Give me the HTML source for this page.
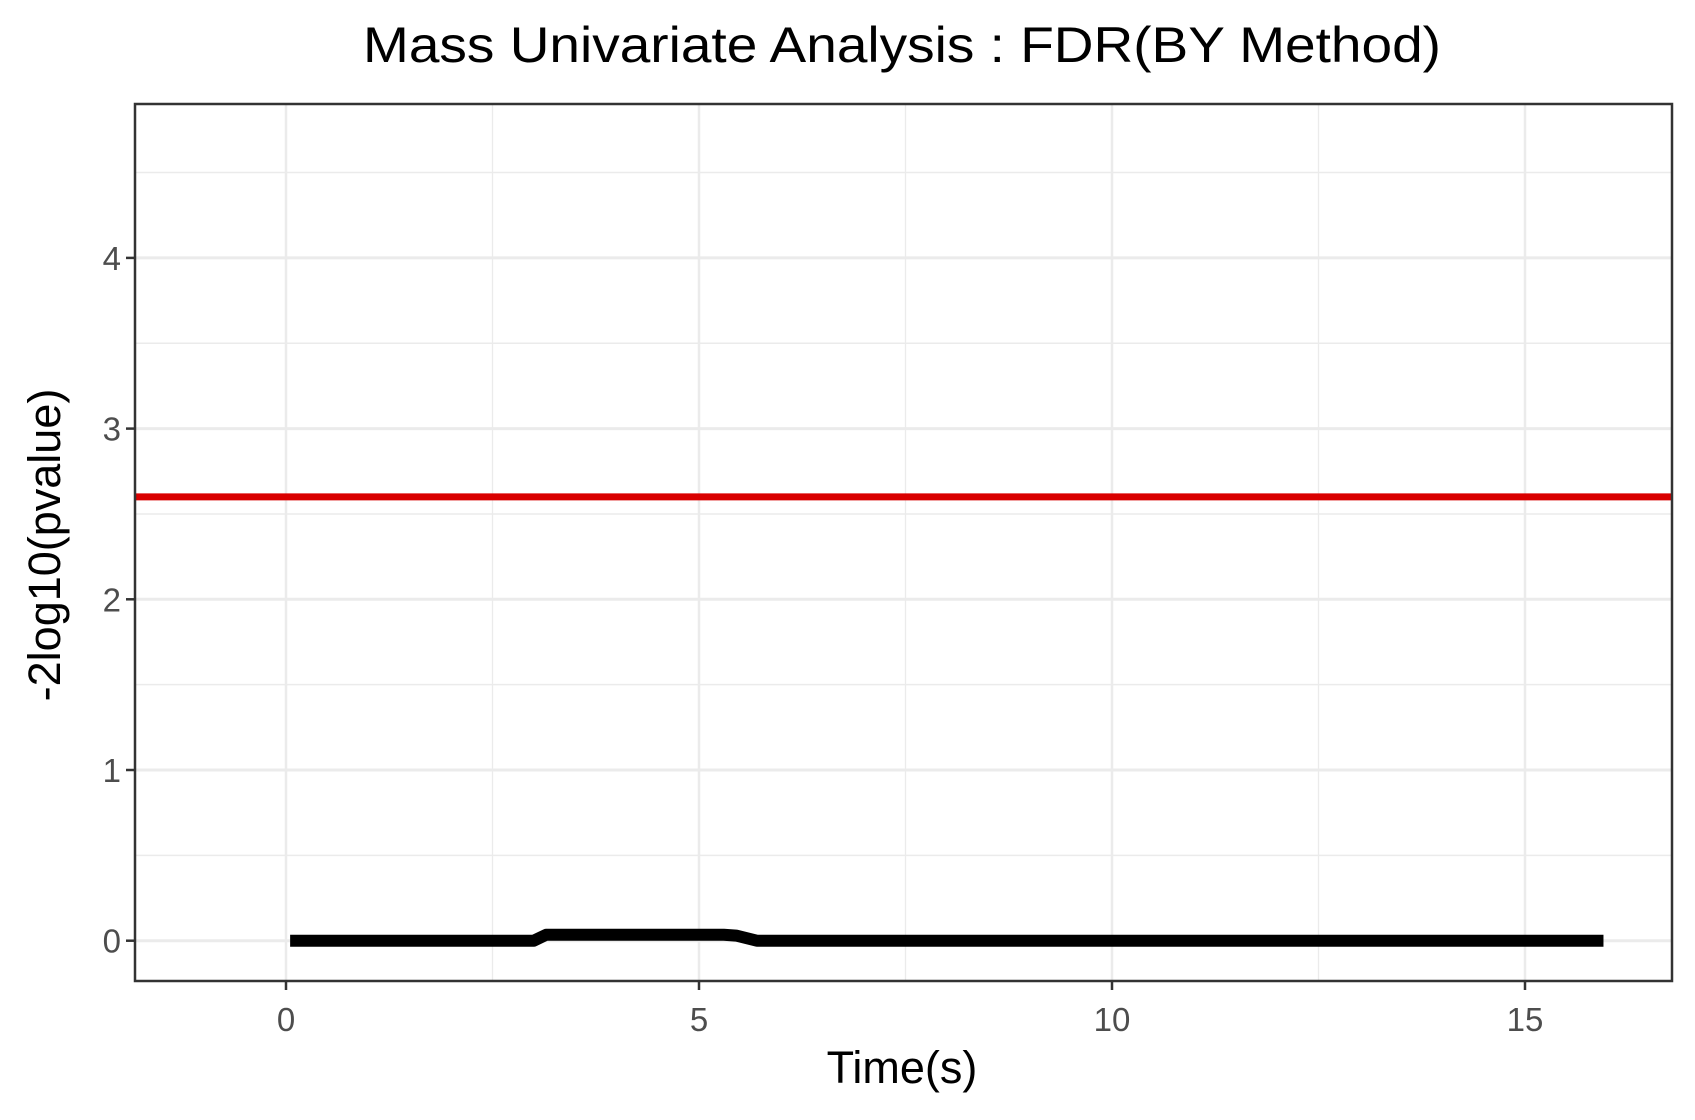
<!DOCTYPE html>
<html><head><meta charset="utf-8"><style>body{margin:0;background:#fff}svg{display:block}text{font-family:"Liberation Sans",sans-serif}</style></head>
<body>
<svg id="chart" width="1695" height="1120" xmlns="http://www.w3.org/2000/svg">
<text x="902" y="62" font-size="50" text-anchor="middle" textLength="1078" lengthAdjust="spacingAndGlyphs" fill="#000">Mass Univariate Analysis : FDR(BY Method)</text>
<g id="grid"></g>
<g id="marks"></g>
<rect x="135" y="104" width="1537" height="877" fill="none" stroke="#333" stroke-width="2.5"/>
<g id="axes"></g>
<text x="902" y="1083" font-size="45" text-anchor="middle" fill="#000">Time(s)</text>
<text transform="translate(60,545) rotate(-90)" font-size="45" text-anchor="middle" fill="#000">-2log10(pvalue)</text>
</svg>
<script>
const times=[0.05,3.0,3.15,3.5,4,4.5,5,5.3,5.45,5.7,8,10,12,14,15.95];
const values=[0,0,0.035,0.035,0.035,0.035,0.035,0.035,0.03,0,0,0,0,0,0];
const threshold=[2.6];
const xTicks=[0,5,10,15];
const yTicks=[0,1,2,3,4];
const NS="http://www.w3.org/2000/svg";
const L=135,R=1672,T=104,B=981;
function xs(v){return 286+v*82.6;}
function ys(v){return 940.7-v*170.7;}
function mk(tag,attrs,parent){const e=document.createElementNS(NS,tag);for(const k in attrs)e.setAttribute(k,attrs[k]);parent.appendChild(e);return e;}
const grid=document.getElementById('grid'),marks=document.getElementById('marks'),axes=document.getElementById('axes');
mk('rect',{x:L,y:T,width:R-L,height:B-T,fill:'#fff'},grid);
for(let v=-2.5;v<=17;v+=2.5){const x=xs(v);if(x<L||x>R)continue;const major=xTicks.includes(v);
const g=mk('line',{x1:x,x2:x,y1:T,y2:B,stroke:'#ebebeb','stroke-width':major?2.5:1.3},grid);

}
for(let v=-0.5;v<=5;v+=0.5){const y=ys(v);if(y<T||y>B)continue;const major=yTicks.includes(v);
const g=mk('line',{x1:L,x2:R,y1:y,y2:y,stroke:'#ebebeb','stroke-width':major?3:1.5},grid);

}
const rl=mk('line',{x1:L,x2:R,y1:ys(threshold[0]),y2:ys(threshold[0]),stroke:'#d90000','stroke-width':7},marks);


const p=mk('polyline',{points:times.map((t,i)=>xs(t)+','+ys(values[i])).join(' '),fill:'none',stroke:'#000','stroke-width':12,'stroke-linejoin':'round'},marks);


xTicks.forEach(v=>{const x=xs(v);
mk('line',{x1:x,x2:x,y1:B,y2:B+9,stroke:'#333','stroke-width':2.5},axes);
const t=mk('text',{x:x,y:1031,'font-size':33,'text-anchor':'middle',fill:'#4d4d4d'},axes);t.textContent=v;

});
yTicks.forEach(v=>{const y=ys(v);
mk('line',{x1:L-9,x2:L,y1:y,y2:y,stroke:'#333','stroke-width':2.5},axes);
const t=mk('text',{x:L-14,y:y+12,'font-size':33,'text-anchor':'end',fill:'#4d4d4d'},axes);t.textContent=v;

});
</script>
</body></html>
